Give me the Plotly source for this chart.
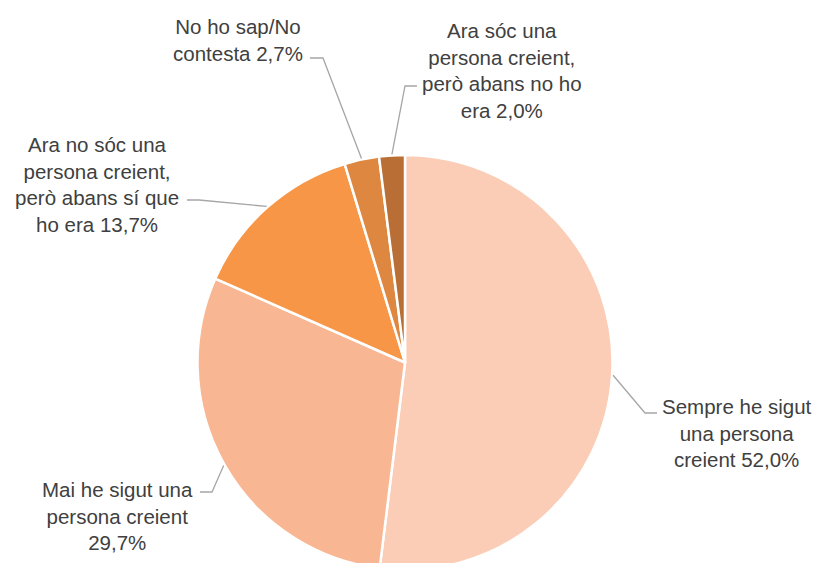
import math
import plotly.graph_objects as go

# ---- data ----
categories = [
    "Sempre he sigut una persona creient",
    "Mai he sigut una persona creient",
    "Ara no sóc una persona creient, però abans sí que ho era",
    "No ho sap/No contesta",
    "Ara sóc una persona creient, però abans no ho era",
]
values = [52.0, 29.7, 13.7, 2.7, 2.0]
label_texts = [
    "Sempre he sigut<br>una persona<br>creient 52,0%",
    "Mai he sigut una<br>persona creient<br>29,7%",
    "Ara no sóc una<br>persona creient,<br>però abans sí que<br>ho era 13,7%",
    "No ho sap/No<br>contesta 2,7%",
    "Ara sóc una<br>persona creient,<br>però abans no ho<br>era 2,0%",
]
colors = ["#FBCDB6", "#F8B692", "#F79646", "#DE8741", "#B86E34"]

# ---- layout geometry (pixels) ----
W, H = 820, 570          # visible window is 563 tall; pie bottom is clipped like the original
pie_top = 155
pie_cx = 405
radius = (H - pie_top) / 2.0
pie_cy = pie_top + radius

# label centres (px) and leader elbow points (px)
label_pos = [(737, 433), (118, 516), (97, 184), (238, 40), (502, 71)]
leader_knee = [
    [(657, 413), (645, 413)],
    [(200, 492), (212, 492)],
    [(187, 200), (199, 200)],
    [(310, 58), (323, 58)],
    [(417, 86), (405, 86)],
]


def px2paper(x, y):
    return x / W, 1 - y / H


fig = go.Figure(
    go.Pie(
        labels=categories,
        values=values,
        sort=False,
        direction="clockwise",
        rotation=0,
        marker=dict(colors=colors, line=dict(color="white", width=2.5)),
        textinfo="none",
        hoverinfo="label+percent",
        showlegend=False,
        domain=dict(x=[0, 2 * pie_cx / W], y=[0, (H - pie_top) / H]),
    )
)

total = sum(values)
cum = 0.0
shapes = []
annotations = []
for i, v in enumerate(values):
    mid = (cum + v / 2) / total * 2 * math.pi
    cum += v
    ex = pie_cx + (radius + 1) * math.sin(mid)
    ey = pie_cy - (radius + 1) * math.cos(mid)
    pts = leader_knee[i] + [(ex, ey)]
    path = ""
    for j, (x, y) in enumerate(pts):
        px, py = px2paper(x, y)
        path += ("M" if j == 0 else "L") + f" {px:.5f},{py:.5f} "
    shapes.append(
        dict(type="path", xref="paper", yref="paper", path=path.strip(),
             line=dict(color="#A6A6A6", width=1.3))
    )
    lx, ly = px2paper(*label_pos[i])
    annotations.append(
        dict(x=lx, y=ly, xref="paper", yref="paper", text=label_texts[i],
             showarrow=False, xanchor="center", yanchor="middle", align="center",
             font=dict(family="Liberation Sans, Arial, sans-serif", size=20.5,
                       color="#404040"))
    )

fig.update_layout(
    width=W,
    height=H,
    margin=dict(l=0, r=0, t=0, b=0),
    paper_bgcolor="white",
    plot_bgcolor="white",
    shapes=shapes,
    annotations=annotations,
)

fig.write_html(
    "out.html",
    config={"displayModeBar": False},
    post_script="document.body.style.margin='0';document.body.style.overflow='hidden';",
)
